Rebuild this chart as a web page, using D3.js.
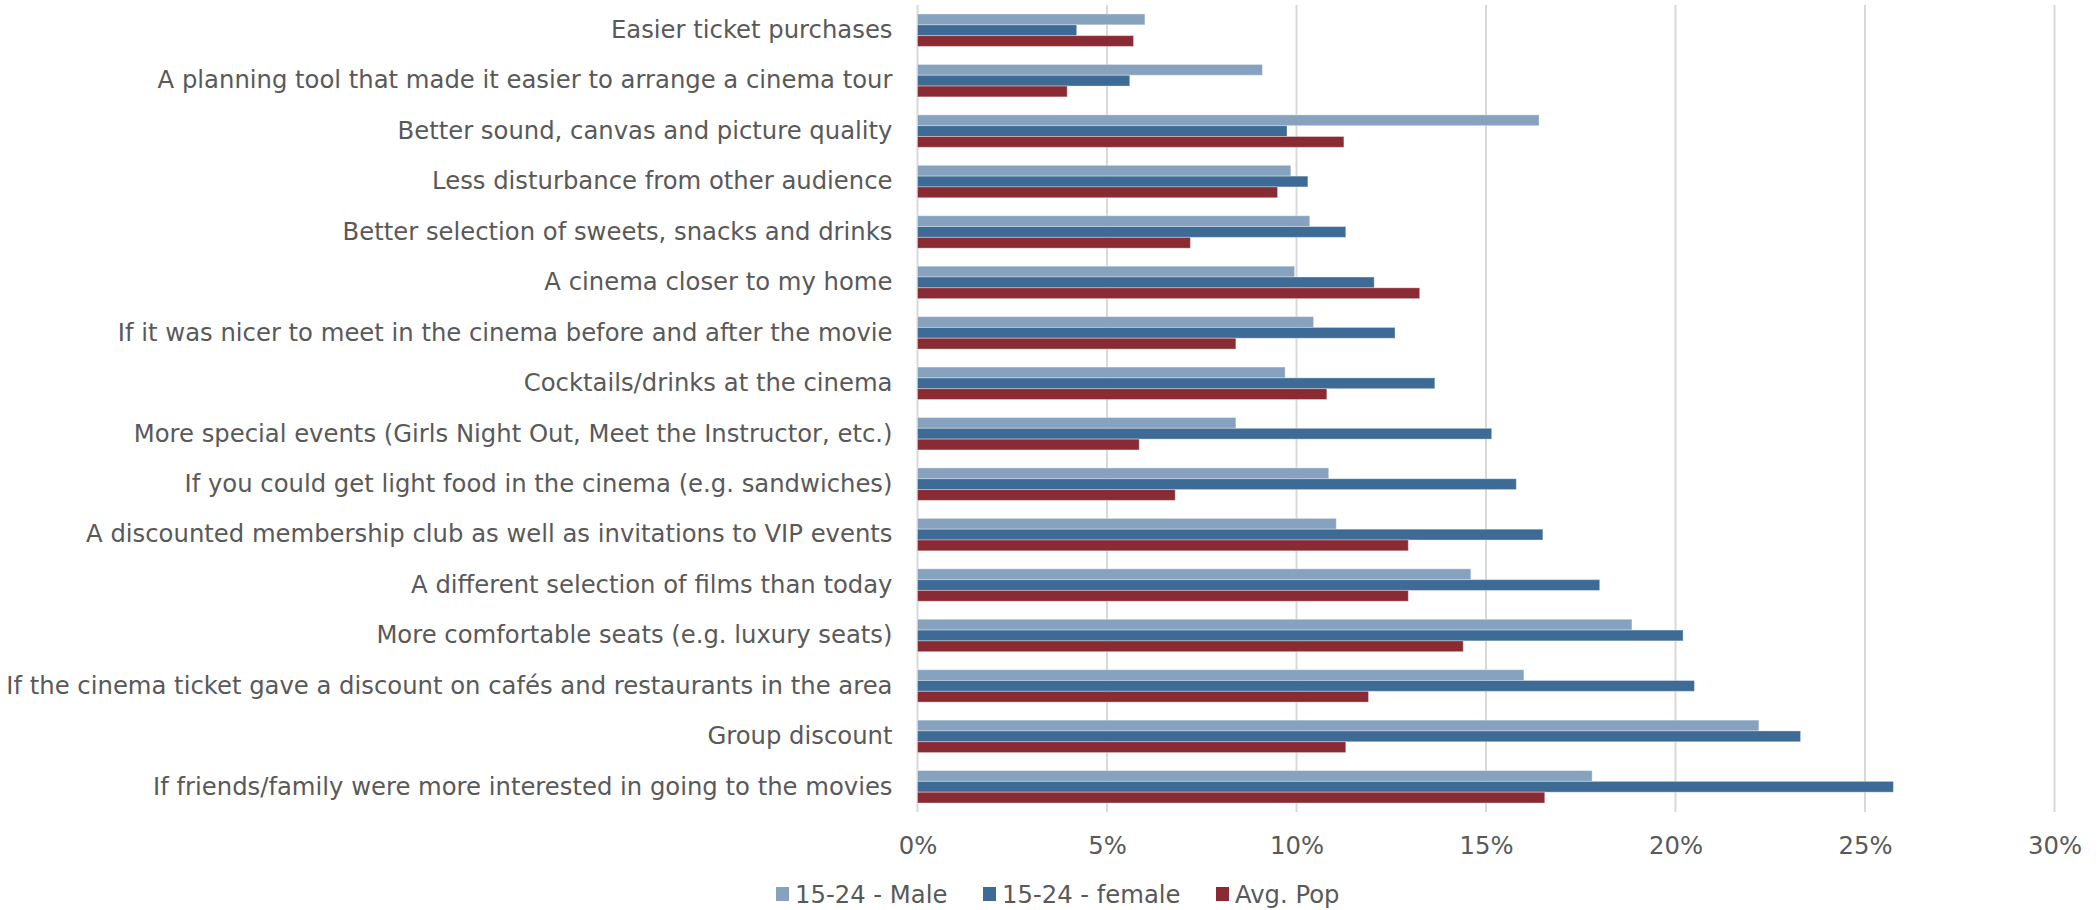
<!DOCTYPE html>
<html>
<head>
<meta charset="utf-8">
<script src="https://cdn.jsdelivr.net/npm/d3@7"></script>
<style>
  html, body { margin: 0; padding: 0; background: #ffffff; }
  svg { display: block; }
  text { font-family: "DejaVu Sans", Verdana, sans-serif; fill: #595959; }
</style>
</head>
<body>
<svg id="chart" width="2099" height="910"></svg>
<script>
// Survey answers, listed top to bottom
const categories = [
  "Easier ticket purchases",
  "A planning tool that made it easier to arrange a cinema tour",
  "Better sound, canvas and picture quality",
  "Less disturbance from other audience",
  "Better selection of sweets, snacks and drinks",
  "A cinema closer to my home",
  "If it was nicer to meet in the cinema before and after the movie",
  "Cocktails/drinks at the cinema",
  "More special events (Girls Night Out, Meet the Instructor, etc.)",
  "If you could get light food in the cinema (e.g. sandwiches)",
  "A discounted membership club as well as invitations to VIP events",
  "A different selection of films than today",
  "More comfortable seats (e.g. luxury seats)",
  "If the cinema ticket gave a discount on cafés and restaurants in the area",
  "Group discount",
  "If friends/family were more interested in going to the movies"
];

const seriesNames = ["15-24 - Male", "15-24 - female", "Avg. Pop"];

// Share of respondents per answer (fractions)
const male15to24 = [0.060, 0.091, 0.164, 0.0985, 0.1035, 0.0995, 0.1045, 0.097, 0.084, 0.1085, 0.1105, 0.146, 0.1885, 0.160, 0.222, 0.178];
const female15to24 = [0.042, 0.056, 0.0975, 0.103, 0.113, 0.1205, 0.126, 0.1365, 0.1515, 0.158, 0.165, 0.180, 0.202, 0.205, 0.233, 0.2575];
const avgPop = [0.057, 0.0395, 0.1125, 0.095, 0.072, 0.1325, 0.084, 0.108, 0.0585, 0.068, 0.1295, 0.1295, 0.144, 0.119, 0.113, 0.1655];

const tickValues = [0, 0.05, 0.10, 0.15, 0.20, 0.25, 0.30];

const colors = ["#87a2be", "#3e6b96", "#8a2b33"];
const seriesValues = [male15to24, female15to24, avgPop];

const FONT_SIZE = 24.3;

const svg = d3.select("#chart");

const x = d3.scaleLinear().domain([0, 0.30]).range([917.5, 2054.5]);

const y = d3.scaleBand()
  .domain(categories)
  .range([5, 812])
  .paddingInner(0.357)
  .paddingOuter(0.1785);

const ySeries = d3.scaleBand()
  .domain(seriesNames)
  .range([0, y.bandwidth()])
  .padding(0);

// Vertical gridlines
svg.append("g")
  .selectAll("line")
  .data(tickValues)
  .join("line")
  .attr("x1", d => x(d))
  .attr("x2", d => x(d))
  .attr("y1", 5)
  .attr("y2", 812)
  .attr("stroke", "#d9d9d9")
  .attr("stroke-width", 2);

// Bars
const groups = svg.append("g")
  .selectAll("g")
  .data(categories)
  .join("g")
  .attr("transform", c => `translate(0,${y(c)})`);

groups.selectAll("rect")
  .data((c, i) => seriesNames.map((s, k) => ({ s, k, v: seriesValues[k][i] })))
  .join("rect")
  .attr("x", x(0))
  .attr("y", d => ySeries(d.s))
  .attr("width", d => x(d.v) - x(0))
  .attr("height", ySeries.bandwidth())
  .attr("fill", d => colors[d.k])
  .attr("stroke", "rgba(255,255,255,0.35)")
  .attr("stroke-width", 1);

// Category labels
const yAxis = d3.axisLeft(y).tickSize(0).tickPadding(25);
svg.append("g")
  .attr("transform", `translate(${x(0)},0)`)
  .call(yAxis)
  .call(g => g.select(".domain").remove())
  .selectAll("text")
  .attr("font-size", FONT_SIZE)
  .attr("font-family", null)
  .attr("fill", null);

// Percentage axis labels
const xAxis = d3.axisBottom(x)
  .tickValues(tickValues)
  .tickFormat(d3.format(".0%"))
  .tickSize(0)
  .tickPadding(0);
svg.append("g")
  .attr("transform", "translate(0,845)")
  .call(xAxis)
  .call(g => g.select(".domain").remove())
  .selectAll("text")
  .attr("dy", "0.35em")
  .attr("font-size", FONT_SIZE)
  .attr("font-family", null)
  .attr("fill", null);

// Legend
const legendX = [776, 983, 1216];
const legend = svg.append("g")
  .selectAll("g")
  .data(seriesNames)
  .join("g")
  .attr("transform", (d, i) => `translate(${legendX[i]},894)`);
legend.append("rect")
  .attr("x", 0).attr("y", -7)
  .attr("width", 13).attr("height", 14)
  .attr("fill", (d, i) => colors[i]);
legend.append("text")
  .attr("x", 19)
  .attr("dy", "0.35em")
  .attr("font-size", FONT_SIZE)
  .text(d => d);
</script>
</body>
</html>
